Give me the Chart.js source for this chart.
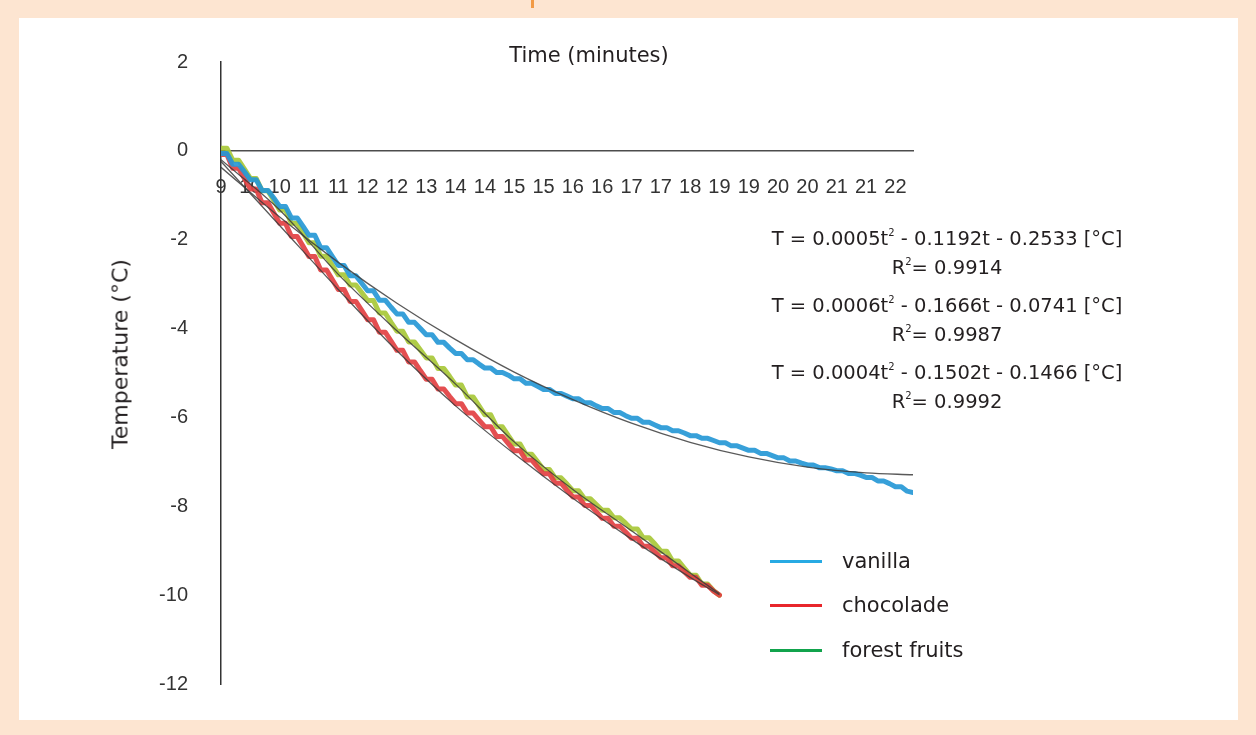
<!DOCTYPE html>
<html lang="en">
<head>
  <meta charset="UTF-8">
  <title>Temperature vs time</title>
  <script src="https://cdn.jsdelivr.net/npm/chart.js"></script>
  <style>
    html, body { margin: 0; padding: 0; }
    body { width: 1256px; height: 735px; background: #fde5d1; position: relative; overflow: hidden;
           font-family: "DejaVu Sans", sans-serif; color: #231f20; }
    #paper { position: absolute; left: 19px; top: 18px; width: 1219px; height: 702px; background: #fff; }
    #mark { position: absolute; left: 531px; top: 0; width: 3px; height: 8px; background: #f29a45; }
    #graf { position: absolute; left: 0; top: 0; }
    .txt { position: absolute; font-size: 21px; white-space: nowrap; }
    #xTitle { left: 589px; top: 55px; transform: translate(-50%, -50%); }
    #yTitle { left: 120px; top: 354px; font-size: 22px; transform: translate(-50%, -50%) rotate(-90deg); }
    .eq { position: absolute; left: 947px; transform: translate(-50%, -50%); font-size: 19.5px; white-space: nowrap; }
    .eq sup { font-size: 10px; vertical-align: 9px; line-height: 0; }
    .leg { position: absolute; left: 770px; }
    .leg span.ln { position: absolute; left: 0; top: -1.5px; width: 52px; height: 3px; }
    .leg span.lb { position: absolute; left: 72px; top: 0; transform: translateY(-50%); font-size: 21px; white-space: nowrap; }
  </style>
</head>
<body>
  <div id="paper"></div>
  <div id="mark"></div>
  <canvas id="graf" width="1256" height="735"></canvas>

  <div class="txt" id="xTitle">Time (minutes)</div>
  <div class="txt" id="yTitle">Temperature (°C)</div>

  <div class="eq" style="top:238px">T = 0.0005t<sup>2</sup> - 0.1192t - 0.2533 [°C]</div>
  <div class="eq" style="top:267px">R<sup>2</sup>= 0.9914</div>
  <div class="eq" style="top:305px">T = 0.0006t<sup>2</sup> - 0.1666t - 0.0741 [°C]</div>
  <div class="eq" style="top:334px">R<sup>2</sup>= 0.9987</div>
  <div class="eq" style="top:372px">T = 0.0004t<sup>2</sup> - 0.1502t - 0.1466 [°C]</div>
  <div class="eq" style="top:401px">R<sup>2</sup>= 0.9992</div>

  <div class="leg" style="top:561px"><span class="ln" style="background:#27aae3"></span><span class="lb">vanilla</span></div>
  <div class="leg" style="top:605px"><span class="ln" style="background:#e8262b"></span><span class="lb">chocolade</span></div>
  <div class="leg" style="top:650px"><span class="ln" style="background:#11a34c"></span><span class="lb">forest fruits</span></div>

  <script>
    // rótulos do eixo x (minutos), um a cada 5 leituras
    const tickLabels = ['9', '10', '10', '11', '11', '12', '12', '13', '14', '14', '15', '15',
                        '16', '16', '17', '17', '18', '19', '19', '20', '20', '21', '21', '22'];
    const yTicks = [2, 0, -2, -4, -6, -8, -10, -12];

    // temperaturas lidas (°C), uma por leitura
    const vanilla = [
      -0.06, -0.06, -0.30, -0.30, -0.47, -0.65, -0.65, -0.89, -0.89, -1.06,
      -1.25, -1.25, -1.51, -1.51, -1.70, -1.90, -1.90, -2.18, -2.18, -2.38,
      -2.58, -2.58, -2.81, -2.81, -2.98, -3.15, -3.15, -3.36, -3.36, -3.52,
      -3.67, -3.67, -3.86, -3.86, -4.00, -4.14, -4.14, -4.31, -4.31, -4.44,
      -4.56, -4.56, -4.70, -4.70, -4.80, -4.89, -4.89, -4.99, -4.99, -5.05,
      -5.13, -5.13, -5.23, -5.23, -5.30, -5.37, -5.37, -5.46, -5.46, -5.52,
      -5.58, -5.58, -5.67, -5.67, -5.74, -5.80, -5.80, -5.89, -5.89, -5.96,
      -6.02, -6.02, -6.11, -6.11, -6.17, -6.23, -6.23, -6.30, -6.30, -6.35,
      -6.41, -6.41, -6.47, -6.47, -6.52, -6.57, -6.57, -6.64, -6.64, -6.69,
      -6.74, -6.74, -6.81, -6.81, -6.86, -6.91, -6.91, -6.98, -6.98, -7.03,
      -7.07, -7.07, -7.13, -7.13, -7.16, -7.20, -7.20, -7.26, -7.26, -7.30,
      -7.35, -7.35, -7.43, -7.43, -7.49, -7.56, -7.56, -7.66, -7.69
    ];
    const chocolade = [
      -0.08, -0.08, -0.39, -0.39, -0.62, -0.86, -0.86, -1.17, -1.17, -1.40,
      -1.63, -1.63, -1.93, -1.93, -2.15, -2.38, -2.38, -2.68, -2.68, -2.90,
      -3.12, -3.12, -3.39, -3.39, -3.59, -3.80, -3.80, -4.08, -4.08, -4.28,
      -4.49, -4.49, -4.75, -4.75, -4.95, -5.14, -5.14, -5.36, -5.36, -5.53,
      -5.69, -5.69, -5.90, -5.90, -6.06, -6.21, -6.21, -6.43, -6.43, -6.59,
      -6.75, -6.75, -6.96, -6.96, -7.12, -7.27, -7.27, -7.48, -7.48, -7.64,
      -7.79, -7.79, -7.98, -7.98, -8.12, -8.27, -8.27, -8.45, -8.45, -8.58,
      -8.72, -8.72, -8.90, -8.90, -9.03, -9.16, -9.16, -9.34, -9.34, -9.47,
      -9.60, -9.60, -9.78, -9.78, -9.91, -10.00
    ];
    const forestFruits = [
      0.06, 0.06, -0.21, -0.21, -0.41, -0.62, -0.62, -0.90, -0.90, -1.11,
      -1.33, -1.33, -1.63, -1.63, -1.85, -2.07, -2.07, -2.37, -2.37, -2.58,
      -2.79, -2.79, -3.02, -3.02, -3.19, -3.37, -3.37, -3.65, -3.65, -3.86,
      -4.06, -4.06, -4.30, -4.30, -4.48, -4.66, -4.66, -4.90, -4.90, -5.08,
      -5.27, -5.27, -5.54, -5.54, -5.74, -5.94, -5.94, -6.21, -6.21, -6.41,
      -6.60, -6.60, -6.83, -6.83, -7.00, -7.17, -7.17, -7.36, -7.36, -7.50,
      -7.65, -7.65, -7.83, -7.83, -7.96, -8.09, -8.09, -8.26, -8.26, -8.38,
      -8.51, -8.51, -8.71, -8.71, -8.85, -9.01, -9.01, -9.23, -9.23, -9.39,
      -9.55, -9.55, -9.75, -9.75, -9.90, -10.00
    ];

    // linhas de tendência (polinomial), lidas no gráfico em algumas leituras
    const trendVanillaAt = [0, 10, 20, 30, 40, 50, 60, 70, 80, 90, 100, 110, 118];
    const trendVanilla = [-0.37, -1.49, -2.51, -3.43, -4.25, -4.98, -5.60, -6.13, -6.56, -6.89, -7.12, -7.25, -7.29];
    const trendOthersAt = [0, 10, 20, 30, 40, 50, 60, 70, 80, 85];
    const trendChocolade = [-0.24, -1.68, -3.12, -4.50, -5.74, -6.82, -7.82, -8.74, -9.60, -9.99];
    const trendForest = [-0.20, -1.33, -2.78, -4.05, -5.25, -6.55, -7.62, -8.55, -9.50, -9.97];

    const PER_LABEL = 5;
    const toPoints = arr => arr.map((v, i) => ({ x: i, y: v }));
    const toTrend = (xs, ys) => xs.map((x, k) => ({ x: x, y: ys[k] }));

    const serie = (label, data, color) => ({
      label, data: toPoints(data), borderColor: color, borderWidth: 5,
      pointRadius: 0, tension: 0, order: 1, borderJoinStyle: 'round', borderCapStyle: 'round'
    });
    const tend = (data) => ({
      label: 'trend', data, borderColor: 'rgba(60,60,60,0.85)', borderWidth: 1.3,
      pointRadius: 0, cubicInterpolationMode: 'monotone', order: 0
    });

    const fonte = { family: "'Liberation Sans', Arial, sans-serif", size: 20 };

    new Chart(document.getElementById('graf'), {
      type: 'line',
      data: {
        datasets: [
          serie('vanilla', vanilla, 'rgba(38,152,214,0.92)'),
          serie('chocolade', chocolade, 'rgba(226,64,66,0.92)'),
          serie('forest fruits', forestFruits, 'rgba(168,200,56,0.92)'),
          tend(toTrend(trendVanillaAt, trendVanilla)),
          tend(toTrend(trendOthersAt, trendChocolade)),
          tend(toTrend(trendOthersAt, trendForest))
        ]
      },
      options: {
        responsive: false,
        animation: false,
        layout: { padding: { left: 0, top: 62, right: 343, bottom: 51 } },
        plugins: { legend: { display: false }, tooltip: { enabled: false }, title: { display: false } },
        scales: {
          x: {
            type: 'linear',
            position: { y: 0 },
            min: 0,
            max: vanilla.length - 1,
            grid: { display: false, drawTicks: false },
            border: { display: true, color: '#4d4d4d', width: 1.5 },
            afterBuildTicks: s => { s.ticks = tickLabels.map((_, k) => ({ value: k * PER_LABEL })); },
            ticks: {
              autoSkip: false, maxRotation: 0, padding: 25, color: '#333', font: fonte,
              callback: v => tickLabels[v / PER_LABEL]
            }
          },
          y: {
            min: yTicks[yTicks.length - 1],
            max: yTicks[0],
            grid: { display: false, drawTicks: false },
            border: { display: true, color: '#333', width: 1.5 },
            afterBuildTicks: s => { s.ticks = yTicks.map(v => ({ value: v })); },
            afterFit: s => { s.width = 221; },
            ticks: { padding: 33, color: '#333', font: fonte }
          }
        }
      }
    });
  </script>
</body>
</html>
